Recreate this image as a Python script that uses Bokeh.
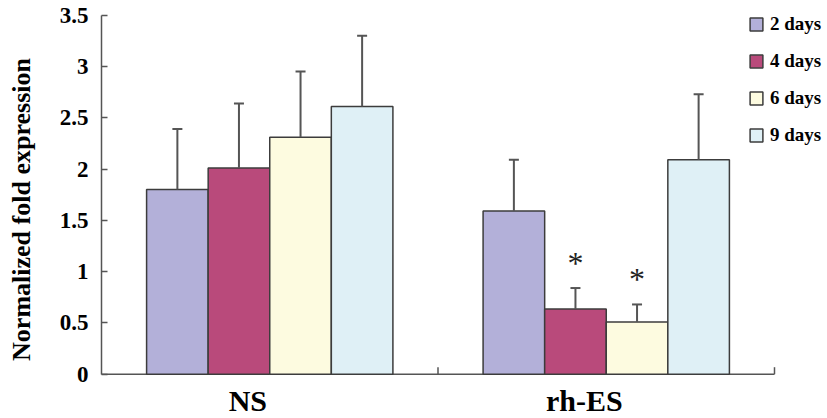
import math
from bokeh.plotting import figure
from bokeh.models import (ColumnDataSource, Range1d, FixedTicker, LinearAxis,
                          Legend, LegendItem, Whisker, TeeHead)
from bokeh.core.properties import value
from bokeh.embed import file_html
from bokeh.resources import INLINE

# ---- data ----
groups = ["NS", "rh-ES"]
series = ["2 days", "4 days", "6 days", "9 days"]

mean_2d = [1.80, 1.59]
mean_4d = [2.01, 0.635]
mean_6d = [2.31, 0.51]
mean_9d = [2.61, 2.09]

err_2d = [0.59, 0.50]
err_4d = [0.63, 0.205]
err_6d = [0.64, 0.17]
err_9d = [0.69, 0.64]

sig_2d = [False, False]
sig_4d = [False, True]
sig_6d = [False, True]
sig_9d = [False, False]

yticks = [0, 0.5, 1, 1.5, 2, 2.5, 3, 3.5]
ytick_labels = ["0", "0.5", "1", "1.5", "2", "2.5", "3", "3.5"]

# ---- styling / layout ----
colors = ["#b3b0d9", "#b94a7b", "#fdfbe0", "#dff0f6"]
outline = "#3c3c3c"
axis_col = "#555555"
FONT = "Liberation Serif"
bar_w = 0.183
offsets = [-1.5 * bar_w, -0.5 * bar_w, 0.5 * bar_w, 1.5 * bar_w]
label_shift = -0.065

W, H = 827, 418
LEFT = 101
px_per_cat = 336.5
px_per_unit = 102.57
zero_px = 373.7          # canvas y of value 0
top_val = yticks[-1]

x_end = (W - LEFT) / px_per_cat
y_end = zero_px / px_per_unit
y_start = -(H - zero_px) / px_per_unit

means = [mean_2d, mean_4d, mean_6d, mean_9d]
errs = [err_2d, err_4d, err_6d, err_9d]
sigs = [sig_2d, sig_4d, sig_6d, sig_9d]

p = figure(width=W, height=H, output_backend="svg", toolbar_location=None,
           x_range=Range1d(0, x_end), y_range=Range1d(y_start, y_end),
           x_axis_location=None, y_axis_location=None,
           min_border_left=LEFT, min_border_right=0, min_border_top=0,
           min_border_bottom=0)
p.outline_line_color = None
p.xgrid.visible = False
p.ygrid.visible = False
p.background_fill_color = "white"
p.border_fill_color = "white"

# y axis
yax = LinearAxis(ticker=FixedTicker(ticks=yticks), bounds=(0, top_val),
                 major_label_overrides={t: l for t, l in zip(yticks, ytick_labels)})
yax.axis_label = "Normalized fold expression"
yax.axis_label_text_font = FONT
yax.axis_label_text_font_style = "bold"
yax.axis_label_text_font_size = "26px"
yax.axis_label_text_color = "black"
yax.axis_label_standoff = 21
yax.major_label_text_font = FONT
yax.major_label_text_font_style = "bold"
yax.major_label_text_font_size = "23px"
yax.major_label_text_color = "black"
yax.major_label_standoff = 13
yax.major_tick_in = 6
yax.major_tick_out = 0
yax.minor_tick_line_color = None
yax.axis_line_color = axis_col
yax.axis_line_width = 1.5
yax.major_tick_line_color = axis_col
yax.major_tick_line_width = 1.5
p.add_layout(yax, "left")

# x axis line with ticks at category boundaries
ncat = len(groups)
p.segment(x0=[0], y0=[0], x1=[ncat], y1=[0], line_color=axis_col, line_width=1.5)
p.ray(x=[i + 1 for i in range(ncat)], y=[0] * ncat, length=7, length_units="screen",
      angle=math.pi / 2, line_color=axis_col, line_width=1.5)

# category labels
centers = [i + 0.5 for i in range(ncat)]
p.text(x=[c + label_shift for c in centers], y=[0] * ncat, text=groups,
       y_offset=43, text_align="center", text_baseline="bottom",
       text_font=value(FONT), text_font_style="bold", text_font_size="30px",
       text_color="black")

items = []
for k, name in enumerate(series):
    xs = [c + offsets[k] for c in centers]
    tops = [m + e for m, e in zip(means[k], errs[k])]
    src = ColumnDataSource(dict(x=xs, mean=means[k], top=tops))
    r = p.vbar(x="x", top="mean", bottom=0, width=bar_w, source=src,
               fill_color=colors[k], line_color=outline, line_width=1.5)
    items.append(LegendItem(label=name, renderers=[r]))
    w = Whisker(source=src, base="x", lower="mean", upper="top",
                dimension="height", line_color=axis_col, line_width=2,
                upper_head=TeeHead(size=10, line_color=axis_col, line_width=2),
                lower_head=None, level="glyph")
    p.add_layout(w)
    sx = [x for x, s in zip(xs, sigs[k]) if s]
    sy = [t for t, s in zip(tops, sigs[k]) if s]
    if sx:
        p.text(x=sx, y=sy, text=["*"] * len(sx), y_offset=-25,
               text_font=value(FONT), text_font_size="32px",
               text_align="center", text_baseline="middle", text_color="#222222")

legend = Legend(items=items, location=(647, 272), orientation="vertical",
                glyph_width=16, glyph_height=16, label_height=20,
                label_standoff=6, spacing=15, padding=0, margin=0,
                border_line_color=None, background_fill_alpha=0,
                label_text_font=FONT, label_text_font_style="bold",
                label_text_font_size="19px", label_text_color="black")
p.add_layout(legend, "center")

open("out.html", "w").write(file_html(p, INLINE))
